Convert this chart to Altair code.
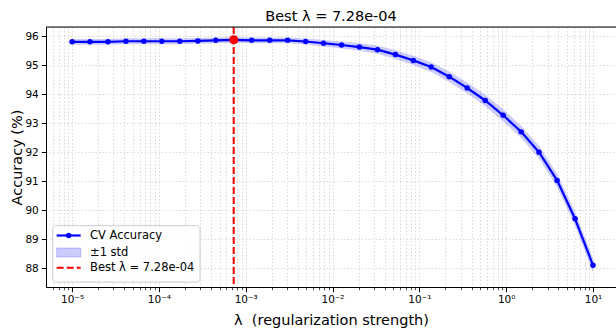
import altair as alt
import pandas as pd
import math

# ---- data ----
lambdas = [1.00e-5, 1.61e-5, 2.59e-5, 4.18e-5, 6.72e-5, 1.08e-4, 1.74e-4, 2.81e-4,
           4.52e-4, 7.28e-4, 1.17e-3, 1.89e-3, 3.04e-3, 4.89e-3, 7.88e-3, 1.27e-2,
           2.04e-2, 3.29e-2, 5.30e-2, 8.53e-2, 1.37e-1, 2.21e-1, 3.56e-1, 5.74e-1,
           9.24e-1, 1.49, 2.39, 3.86, 6.21, 10.0]
accuracy = [95.80, 95.80, 95.80, 95.82, 95.82, 95.82, 95.82, 95.83, 95.85, 95.87,
            95.85, 95.85, 95.85, 95.81, 95.75, 95.69, 95.62, 95.53, 95.36, 95.16,
            94.93, 94.60, 94.21, 93.78, 93.27, 92.70, 92.00, 91.03, 89.71, 88.11]
std = [0.10, 0.10, 0.10, 0.10, 0.10, 0.10, 0.10, 0.10, 0.10, 0.10,
       0.10, 0.10, 0.10, 0.10, 0.11, 0.12, 0.13, 0.14, 0.15, 0.16,
       0.17, 0.18, 0.19, 0.20, 0.21, 0.21, 0.22, 0.23, 0.24, 0.25]
best_lambda = [7.28e-4]
best_accuracy = [95.87]
x_major = [1e-5, 1e-4, 1e-3, 1e-2, 1e-1, 1e0, 1e1]
y_ticks = [88, 89, 90, 91, 92, 93, 94, 95, 96]
legend_labels = ["CV Accuracy", "±1 std", "Best λ = 7.28e-04"]
title_text = "Best λ = 7.28e-04"
x_title = "λ\u00a0\u00a0(regularization strength)"
y_title = "Accuracy (%)"

FONT = "DejaVu Sans"
W, H = 570, 260
x_dom = [10 ** -5.3, 10 ** 1.265]
y_dom = [87.36, 96.31]

df = pd.DataFrame({"lam": lambdas, "acc": accuracy, "std": std})
df["lo"] = df["acc"] - df["std"]
df["hi"] = df["acc"] + df["std"]
best_df = pd.DataFrame({"lam": best_lambda, "acc": best_accuracy})

# minor tick positions
x_ticks = []
for e in range(-6, 2):
    for k in range(1, 10):
        v = k * 10 ** e
        if x_dom[0] <= v <= x_dom[1]:
            x_ticks.append(float(v))

sup = {"-": "⁻", "0": "⁰", "1": "¹", "2": "²", "3": "³", "4": "⁴", "5": "⁵",
       "6": "⁶", "7": "⁷", "8": "⁸", "9": "⁹"}
expr = "''"
for v in x_major:
    e = int(round(math.log10(v)))
    s = "10" + "".join(sup[c] for c in str(e))
    expr = f"(abs(datum.value - {v!r}) < {v!r} * 1e-6) ? '{s}' : ({expr})"

is_major = "abs(log(datum.value)/LN10 - round(log(datum.value)/LN10)) < 1e-6"

xscale = alt.Scale(type="log", domain=x_dom)
yscale = alt.Scale(domain=y_dom)

x_axis = alt.Axis(
    values=x_ticks, labelExpr=expr, labelOverlap=False, labelFlush=False,
    title=x_title, titleFontSize=14.5, titleFont=FONT,
    titleFontWeight="normal", titleColor="black", titlePadding=8,
    labelFontSize=10.5, labelFont=FONT, labelColor="black", labelPadding=3,
    tickColor="black",
    tickSize={"condition": {"test": is_major, "value": 4.7}, "value": 2.7},
    tickWidth={"condition": {"test": is_major, "value": 1}, "value": 0.7},
    domainColor="black", domainWidth=1,
    grid=True, gridDash=[1.5, 2], gridColor="#cfcfcf", gridWidth=0.8,
)
y_axis = alt.Axis(
    values=y_ticks, title=y_title, titleFontSize=14.5, titleFont=FONT,
    titleFontWeight="normal", titleColor="black", titlePadding=0,
    labelFontSize=10.5, labelFont=FONT, labelColor="black", labelPadding=3,
    labelOverlap=False, labelFlush=False,
    tickColor="black", tickSize=4.7, domainColor="black", domainWidth=1,
    grid=True, gridDash=[1.5, 2], gridColor="#cfcfcf", gridWidth=0.8,
)


def X():
    return alt.X("lam:Q", scale=xscale, axis=x_axis, title=x_title)


def Y(field):
    return alt.Y(field, scale=yscale, axis=y_axis, title=y_title)


base = alt.Chart(df)
band = base.mark_area(color="blue", opacity=0.2).encode(x=X(), y=Y("lo:Q"), y2="hi:Q")
line = base.mark_line(color="blue", strokeWidth=2.2).encode(x=X(), y=Y("acc:Q"))
pts = base.mark_circle(color="blue", size=30, opacity=1).encode(x=X(), y=Y("acc:Q"))
vline = alt.Chart(best_df).mark_rule(color="red", strokeWidth=2, strokeDash=[7, 3]).encode(x=X())
bestpt = alt.Chart(best_df).mark_circle(color="red", size=85, opacity=1).encode(
    x=X(), y=Y("acc:Q"))

one = pd.DataFrame({"a": [0]})
top_line = alt.Chart(one).mark_rule(color="black", strokeWidth=1).encode(
    x=alt.value(0), x2=alt.value(W), y=alt.value(0))

# legend box
lx0, lx1, ly0, ly1 = 6.7, 154, 198.7, 255
leg_box = alt.Chart(one).mark_rect(fill="white", fillOpacity=0.8, stroke="#cccccc",
                                   strokeWidth=1, cornerRadius=3).encode(
    x=alt.value(lx0), x2=alt.value(lx1), y=alt.value(ly0), y2=alt.value(ly1))
r1, r2, r3 = 208.5, 225.5, 240.7
leg_line = alt.Chart(one).mark_rule(color="blue", strokeWidth=2.2).encode(
    x=alt.value(10.7), x2=alt.value(34.7), y=alt.value(r1))
leg_pt = alt.Chart(one).mark_circle(color="blue", size=30, opacity=1).encode(
    x=alt.value(22.7), y=alt.value(r1))
leg_patch = alt.Chart(one).mark_rect(fill="blue", fillOpacity=0.2, stroke="blue",
                                     strokeOpacity=0.2).encode(
    x=alt.value(10.7), x2=alt.value(34.7), y=alt.value(r2 - 4.5), y2=alt.value(r2 + 4.5))
leg_dash = alt.Chart(one).mark_rule(color="red", strokeWidth=2, strokeDash=[7, 3]).encode(
    x=alt.value(10.7), x2=alt.value(34.7), y=alt.value(r3))
leg_df = pd.DataFrame({"label": legend_labels, "row": [r1, r2, r3]})
leg_text = alt.Chart(leg_df).mark_text(align="left", baseline="middle", font=FONT,
                                       fontSize=11.5, color="black").encode(
    x=alt.value(44), y=alt.Y("row:Q", scale=None), text="label:N")

chart = alt.layer(
    band, line, pts, vline, bestpt, top_line,
    leg_box, leg_line, leg_pt, leg_patch, leg_dash, leg_text,
).properties(
    width=W, height=H,
    title=alt.Title(title_text, font=FONT, fontSize=14.5, fontWeight="normal",
                    color="black", offset=2, anchor="middle"),
    autosize=alt.AutoSizeParams(type="none"),
    padding={"left": 46, "top": 27, "right": 0, "bottom": 43},
).configure_view(stroke=None).configure(font=FONT, background="white")

chart.save("out.html", embed_options={"renderer": "svg", "actions": False})
